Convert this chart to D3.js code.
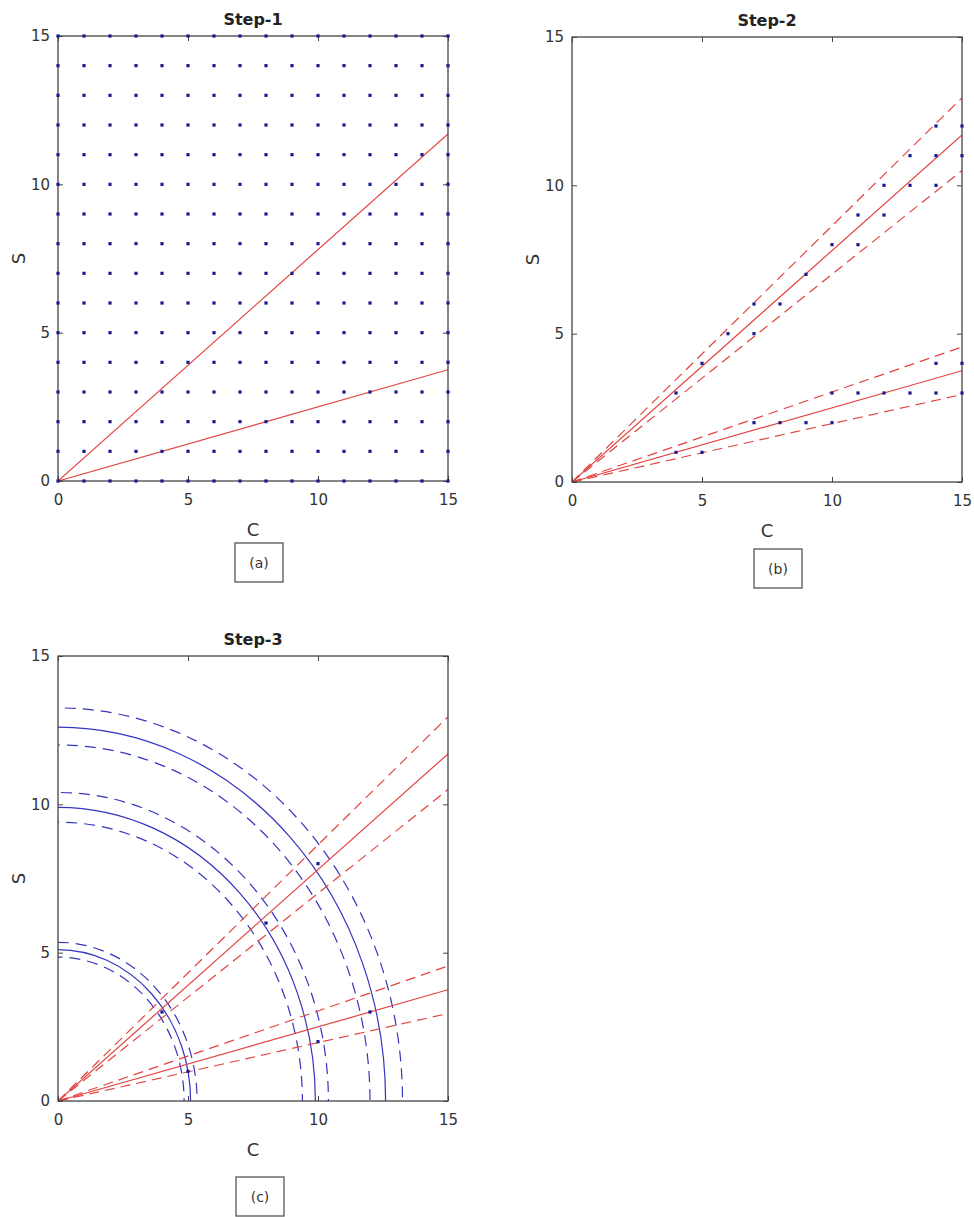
<!DOCTYPE html>
<html>
<head>
<meta charset="utf-8">
<script src="https://cdn.jsdelivr.net/npm/d3@7"></script>
<style>
body{margin:0;background:#fff;}
text{font-family:"DejaVu Sans",sans-serif;}
</style>
</head>
<body>
<div id="chart"></div>
<script>
var W=974, H=1217;
var pw=390, ph=445;

//Axis ticks
var ticks=[0,5,10,15];

//Step-1: full grid of candidate points
var gridC=[0,1,2,3,4,5,6,7,8,9,10,11,12,13,14,15];
var gridS=[0,1,2,3,4,5,6,7,8,9,10,11,12,13,14,15];

//Step-2: points kept inside the two angular bands
var step2C=[4,5,6,7,7,8,9,10,11,11,12,12,13,13,14,14,14,15,15,
            4,5,7,8,9,10,10,11,12,13,14,14,15,15];
var step2S=[3,4,5,5,6,6,7,8,8,9,9,10,10,11,10,11,12,11,12,
            1,1,2,2,2,2,3,3,3,3,3,4,3,4];

//Step-3: points kept inside the rings
var step3C=[4,5,8,10,10,12];
var step3S=[3,1,6,8,2,3];

//Rays through the origin, given as S value at C=15
var raySolid=[11.7,3.75];
var rayUpper=[12.95,4.55];
var rayLower=[10.5,2.95];

//Rings (radius in data units)
var ringSolid=[5.1,9.9,12.6];
var ringOuter=[5.35,10.4,13.25];
var ringInner=[4.85,9.4,12.0];

var panels=[
  {key:"a", title:"Step-1", left:58,  top:36,  label:"(a)", boxX:177, boxY:507},
  {key:"b", title:"Step-2", left:572, top:37,  label:"(b)", boxX:182, boxY:512},
  {key:"c", title:"Step-3", left:58,  top:656, label:"(c)", boxX:178, boxY:521}
];

var red="#e2433f", blue="#3434c0", dotColor="#1a1a90", axisColor="#444";

var svg=d3.select("#chart").append("svg")
          .attr("width",W)
          .attr("height",H);

var x=d3.scaleLinear().domain([0,15]).range([0,pw]);
var y=d3.scaleLinear().domain([0,15]).range([ph,0]);

panels.forEach(function(p){
    var g=svg.append("g").attr("transform","translate("+p.left+","+p.top+")");

    g.append("clipPath").attr("id","clip-"+p.key)
     .append("rect").attr("width",pw).attr("height",ph);
    var plot=g.append("g").attr("clip-path","url(#clip-"+p.key+")");

    //Rings for step 3
    if(p.key=="c"){
        var rings=[];
        ringSolid.forEach(function(r){rings.push({r:r,dash:null});});
        ringOuter.forEach(function(r){rings.push({r:r,dash:"11,7"});});
        ringInner.forEach(function(r){rings.push({r:r,dash:"11,7"});});
        plot.selectAll("ellipse.ring").data(rings).enter()
            .append("ellipse")
            .attr("class","ring")
            .attr("cx",x(0)).attr("cy",y(0))
            .attr("rx",function(d){return x(d.r)-x(0);})
            .attr("ry",function(d){return y(0)-y(d.r);})
            .style("fill","none")
            .style("stroke",blue)
            .style("stroke-width",1.2)
            .style("stroke-dasharray",function(d){return d.dash;});
    }

    //Rays
    var rays=[];
    raySolid.forEach(function(s){rays.push({s:s,dash:null});});
    if(p.key!="a"){
        rayUpper.forEach(function(s){rays.push({s:s,dash:"10,6"});});
        rayLower.forEach(function(s){rays.push({s:s,dash:"10,6"});});
    }
    plot.selectAll("line.ray").data(rays).enter()
        .append("line")
        .attr("class","ray")
        .attr("x1",x(0)).attr("y1",y(0))
        .attr("x2",x(15)).attr("y2",function(d){return y(d.s);})
        .style("stroke",red)
        .style("stroke-width",1.2)
        .style("stroke-dasharray",function(d){return d.dash;});

    //Frame and ticks
    g.append("rect").attr("width",pw).attr("height",ph)
     .style("fill","none").style("stroke",axisColor).style("stroke-width",1.3);

    var axes=[
        {axis:d3.axisBottom(x), tr:"translate(0,"+ph+")", labels:true, pad:13},
        {axis:d3.axisTop(x), tr:"translate(0,0)", labels:false, pad:0},
        {axis:d3.axisLeft(y), tr:"translate(0,0)", labels:true, pad:8},
        {axis:d3.axisRight(y), tr:"translate("+pw+",0)", labels:false, pad:0}
    ];
    axes.forEach(function(a){
        a.axis.tickValues(ticks).tickSize(-5).tickPadding(a.pad);
        if(!a.labels) a.axis.tickFormat("");
        var ag=g.append("g").attr("transform",a.tr).call(a.axis);
        ag.select(".domain").remove();
        ag.selectAll("line").style("stroke",axisColor);
        ag.selectAll("text").style("font-size","15px").style("fill","#333")
          .style("font-family","'DejaVu Sans',sans-serif");
    });

    //Points
    var pts=[];
    if(p.key=="a"){
        gridC.forEach(function(c){gridS.forEach(function(s){pts.push([c,s]);});});
    } else if(p.key=="b"){
        step2C.forEach(function(c,i){pts.push([c,step2S[i]]);});
    } else {
        step3C.forEach(function(c,i){pts.push([c,step3S[i]]);});
    }
    g.selectAll("rect.pt").data(pts).enter()
     .append("rect")
     .attr("class","pt")
     .attr("x",function(d){return x(d[0])-1.6;})
     .attr("y",function(d){return y(d[1])-1.6;})
     .attr("width",3.2).attr("height",3.2)
     .style("fill",dotColor);

    //Title and axis labels
    g.append("text").attr("x",pw/2).attr("y",-11)
     .attr("text-anchor","middle")
     .style("font-weight","bold").style("font-size","16px").style("fill","#222")
     .text(p.title);
    g.append("text").attr("x",pw/2).attr("y",ph+55)
     .attr("text-anchor","middle")
     .style("font-size","18px").style("fill","#333")
     .text("C");
    g.append("text").attr("transform","translate(-33,"+(ph/2)+") rotate(-90)")
     .attr("text-anchor","middle")
     .style("font-size","18px").style("fill","#333")
     .text("S");

    //Sub-figure label box
    g.append("rect").attr("x",p.boxX).attr("y",p.boxY)
     .attr("width",48).attr("height",39)
     .style("fill","none").style("stroke","#555").style("stroke-width",1.3);
    g.append("text").attr("x",p.boxX+24).attr("y",p.boxY+20)
     .attr("text-anchor","middle").attr("dominant-baseline","central")
     .style("font-size","14px").style("fill","#333")
     .text(p.label);
});
</script>
</body>
</html>
